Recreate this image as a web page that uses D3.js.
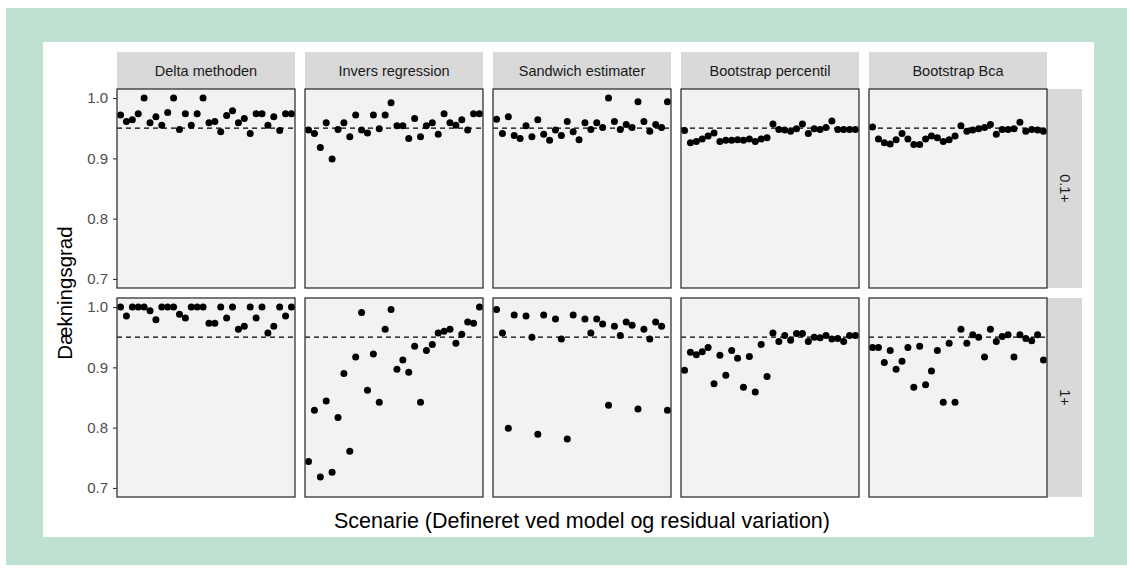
<!DOCTYPE html>
<html>
<head>
<meta charset="utf-8">
<script src="https://cdn.jsdelivr.net/npm/d3@7"></script>
<style>
  html, body { margin: 0; padding: 0; background: #ffffff; }
  svg { display: block; }
  text { font-family: "Liberation Sans", Arial, sans-serif; }
</style>
</head>
<body>
<svg id="chart" width="1127" height="571"></svg>
<script>
// Coverage (dækningsgrad) of five interval methods across 30 scenarios,
// for two levels of residual variation.
const methods = ["Delta methoden", "Invers regression", "Sandwich estimater", "Bootstrap percentil", "Bootstrap Bca"];
const variations = ["0.1+", "1+"];
const scenarios = d3.range(1, 31);
const yTicks = [0.7, 0.8, 0.9, 1.0];
const nominal = 0.95;

// Row "0.1+"
const delta01 = [0.972,0.961,0.964,0.974,1.0,0.959,0.969,0.955,0.976,1.0,0.948,0.974,0.955,0.974,1.0,0.959,0.961,0.944,0.971,0.979,0.959,0.966,0.941,0.974,0.974,0.955,0.969,0.946,0.974,0.974];
const invers01 = [0.947,0.941,0.918,0.959,0.899,0.948,0.959,0.936,0.972,0.947,0.942,0.972,0.949,0.972,0.992,0.954,0.954,0.933,0.966,0.936,0.954,0.959,0.940,0.974,0.959,0.955,0.964,0.947,0.974,0.974];
const sandwich01 = [0.965,0.941,0.969,0.938,0.933,0.954,0.936,0.964,0.940,0.930,0.947,0.938,0.961,0.944,0.931,0.959,0.948,0.959,0.951,1.0,0.961,0.948,0.956,0.951,0.994,0.961,0.945,0.956,0.951,0.994];
const percentil01 = [0.946,0.926,0.928,0.932,0.937,0.942,0.928,0.930,0.930,0.931,0.930,0.932,0.928,0.932,0.934,0.957,0.948,0.947,0.945,0.949,0.957,0.941,0.949,0.948,0.951,0.962,0.948,0.948,0.948,0.948];
const bca01 = [0.952,0.932,0.926,0.924,0.931,0.941,0.932,0.923,0.923,0.932,0.937,0.934,0.928,0.931,0.937,0.954,0.945,0.947,0.949,0.951,0.956,0.940,0.948,0.948,0.949,0.960,0.945,0.948,0.947,0.945];

// Row "1+" (null = below the plotted range)
const delta1 = [1.0,0.985,1.0,1.0,1.0,0.994,0.979,1.0,1.0,1.0,0.988,0.982,1.0,1.0,1.0,0.973,0.973,1.0,0.982,1.0,0.963,0.968,1.0,0.982,1.0,0.957,0.968,1.0,0.985,1.0];
const invers1 = [0.744,0.829,0.718,0.844,0.726,0.817,0.890,0.761,0.917,0.991,0.862,0.922,0.842,0.963,0.996,0.897,0.912,0.892,0.935,0.842,0.928,0.938,0.957,0.960,0.963,0.940,0.955,0.975,0.973,1.0];
const sandwich1 = [0.996,0.957,0.799,0.987,null,0.985,0.950,0.789,0.987,null,0.980,0.947,0.781,0.987,null,0.980,0.957,0.980,0.972,0.837,0.968,0.953,0.975,0.970,0.831,0.963,0.947,0.975,0.968,0.829];
const percentil1 = [0.895,0.925,0.921,0.926,0.933,0.873,0.920,0.887,0.928,0.915,0.867,0.918,0.859,0.938,0.885,0.957,0.943,0.953,0.945,0.956,0.956,0.943,0.950,0.949,0.953,0.947,0.948,0.943,0.953,0.953];
const bca1 = [0.933,0.933,0.908,0.928,0.897,0.910,0.933,0.867,0.935,0.871,0.894,0.928,0.842,0.940,0.842,0.963,0.940,0.954,0.950,0.917,0.963,0.943,0.951,0.954,0.917,0.954,0.948,0.944,0.954,0.912];

const seriesByRow = [
  [delta01, invers01, sandwich01, percentil01, bca01],
  [delta1, invers1, sandwich1, percentil1, bca1]
];

const svg = d3.select("#chart");

// page background and plot card
svg.append("rect").attr("x", 6).attr("y", 8).attr("width", 1121).attr("height", 557).attr("fill", "#bfe1d1");
svg.append("rect").attr("x", 43).attr("y", 42).attr("width", 1051).attr("height", 495).attr("fill", "#ffffff");

// facet geometry
const panelLeft = 117, panelW = 178, gapX = 10;
const panelTop = 89, panelH = 199, gapY = 10;
const stripH = 37, stripW = 35;

const x = d3.scalePoint().domain(scenarios).range([0, panelW]).padding(0.6);
const y = d3.scaleLinear().domain([0.685, 1.015]).range([panelH, 0]);

methods.forEach((m, c) => {
  const px = panelLeft + c * (panelW + gapX);
  const strip = svg.append("g").attr("transform", `translate(${px},${panelTop - stripH})`);
  strip.append("rect").attr("width", panelW).attr("height", stripH).attr("fill", "#d9d9d9");
  strip.append("text").attr("x", panelW / 2).attr("y", stripH / 2 + 5)
    .attr("text-anchor", "middle").attr("font-size", 14.5).attr("fill", "#1a1a1a").text(m);
});

variations.forEach((v, r) => {
  const py = panelTop + r * (panelH + gapY);
  const sx = panelLeft + 5 * panelW + 4 * gapX;
  const strip = svg.append("g").attr("transform", `translate(${sx},${py})`);
  strip.append("rect").attr("width", stripW).attr("height", panelH).attr("fill", "#d9d9d9");
  strip.append("text").attr("transform", `translate(${stripW / 2 - 5},${panelH / 2}) rotate(90)`)
    .attr("text-anchor", "middle").attr("font-size", 14.5).attr("fill", "#1a1a1a").text(v);

  // y axis for the row
  const ax = svg.append("g").attr("transform", `translate(${panelLeft},${py})`)
    .call(d3.axisLeft(y).tickValues(yTicks).tickFormat(d3.format(".1f")).tickSize(4).tickPadding(5));
  ax.select(".domain").remove();
  ax.selectAll(".tick line").attr("stroke", "#333333").attr("stroke-width", 1.1);
  ax.selectAll(".tick text").attr("font-size", 15).attr("fill", "#4d4d4d")
    .attr("font-family", '"Liberation Sans", Arial, sans-serif');

  methods.forEach((m, c) => {
    const px = panelLeft + c * (panelW + gapX);
    const g = svg.append("g").attr("transform", `translate(${px},${py})`);
    const clipId = `clip-${r}-${c}`;
    g.append("clipPath").attr("id", clipId).append("rect").attr("width", panelW).attr("height", panelH);
    g.append("rect").attr("width", panelW).attr("height", panelH).attr("fill", "#f2f2f2");
    const inner = g.append("g").attr("clip-path", `url(#${clipId})`);
    inner.append("line").attr("x1", 0).attr("x2", panelW)
      .attr("y1", y(nominal)).attr("y2", y(nominal))
      .attr("stroke", "#000").attr("stroke-width", 1.2).attr("stroke-dasharray", "5,4");
    const pts = scenarios.map((s, i) => ({ s, v: seriesByRow[r][c][i] }))
      .filter(d => d.v !== null);
    inner.selectAll("circle").data(pts).join("circle")
      .attr("cx", d => x(d.s)).attr("cy", d => y(d.v)).attr("r", 3.5).attr("fill", "#000");
    g.append("rect").attr("width", panelW).attr("height", panelH)
      .attr("fill", "none").attr("stroke", "#333333").attr("stroke-width", 1.3);
  });
});

// axis titles
const plotMidX = panelLeft + (5 * panelW + 4 * gapX) / 2;
svg.append("text").attr("x", plotMidX).attr("y", 528).attr("text-anchor", "middle")
  .attr("font-size", 21.5).attr("fill", "#000").text("Scenarie (Defineret ved model og residual variation)");
svg.append("text").attr("transform", `translate(72,${panelTop + panelH + gapY / 2}) rotate(-90)`)
  .attr("text-anchor", "middle").attr("font-size", 20.5).attr("fill", "#000").text("Dækningsgrad");
</script>
</body>
</html>
